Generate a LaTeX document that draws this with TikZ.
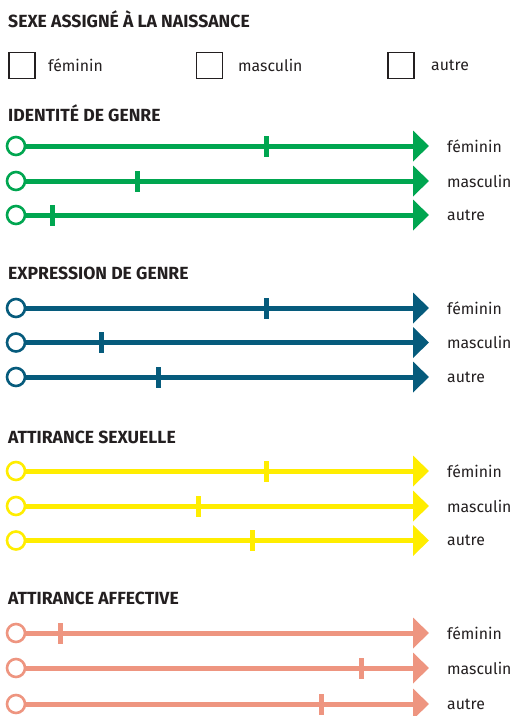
\documentclass[tikz,border=0pt]{standalone}
\usepackage{fontspec}
\setmainfont{Fira Sans}
\usetikzlibrary{arrows.meta}
\definecolor{cgreen}{HTML}{00A650}
\definecolor{cblue}{HTML}{065B7C}
\definecolor{cyellow}{HTML}{FFED00}
\definecolor{csalmon}{HTML}{EE9580}
\definecolor{ctext}{HTML}{231F20}
\tikzset{
  title/.style={anchor=base west, inner sep=0pt, font=\fontsize{17.6}{19}\selectfont\bfseries, text=ctext},
  lbl/.style={anchor=west, inner sep=0pt, font=\fontsize{15.8}{18}\selectfont, text=ctext},
  cbox/.style={draw=ctext, line width=1.6pt, minimum size=26pt, inner sep=0pt},
  startc/.style={circle, draw=#1, line width=2.6pt, fill=white, minimum size=18pt, inner sep=0pt},
  axis/.style={draw=#1, line width=5pt, -{Triangle[length=16pt, width=30pt]}},
  tick/.style={fill=#1, draw=none, minimum width=5pt, minimum height=21pt, inner sep=0pt},
}
\newcommand{\scaleline}[5]{%
  \coordinate (e#4) at (429,#2);
  \draw[axis=#1] (16,#2) -- (e#4);
  \node[tick=#1] (t#4) at (#3,#2) {};
  \node[startc=#1] (s#4) at (16,#2) {};
  \node[lbl] (l#4) at (447,#2) {#5};
}
\begin{document}
\begin{tikzpicture}[x=1pt,y=-1pt]
\useasboundingbox (0,0) rectangle (513,716);
\node[title] (t0) at (8,27) {SEXE ASSIGNÉ À LA NAISSANCE};
\node[cbox] (b1) at (22,65.5) {};
\node[lbl] (bl1) at (48,65) {féminin};
\node[cbox] (b2) at (209.5,65.5) {};
\node[lbl] (bl2) at (238,65) {masculin};
\node[cbox] (b3) at (401,65.5) {};
\node[lbl] (bl3) at (431,65) {autre};

\node[title] (t1) at (8,121) {IDENTITÉ DE GENRE};
\scaleline{cgreen}{146}{266}{g1}{féminin}
\scaleline{cgreen}{181}{137}{g2}{masculin}
\scaleline{cgreen}{215}{52}{g3}{autre}

\node[title] (t2) at (8,279) {EXPRESSION DE GENRE};
\scaleline{cblue}{308}{266}{b1}{féminin}
\scaleline{cblue}{342.5}{101}{b2}{masculin}
\scaleline{cblue}{377}{158}{b3}{autre}

\node[title] (t3) at (8,443) {ATTIRANCE SEXUELLE};
\scaleline{cyellow}{471}{266}{y1}{féminin}
\scaleline{cyellow}{506}{198}{y2}{masculin}
\scaleline{cyellow}{540.5}{252}{y3}{autre}

\node[title] (t4) at (8,604) {ATTIRANCE AFFECTIVE};
\scaleline{csalmon}{633}{60}{s1}{féminin}
\scaleline{csalmon}{668}{361}{s2}{masculin}
\scaleline{csalmon}{704}{321}{s3}{autre}
\end{tikzpicture}
\end{document}
